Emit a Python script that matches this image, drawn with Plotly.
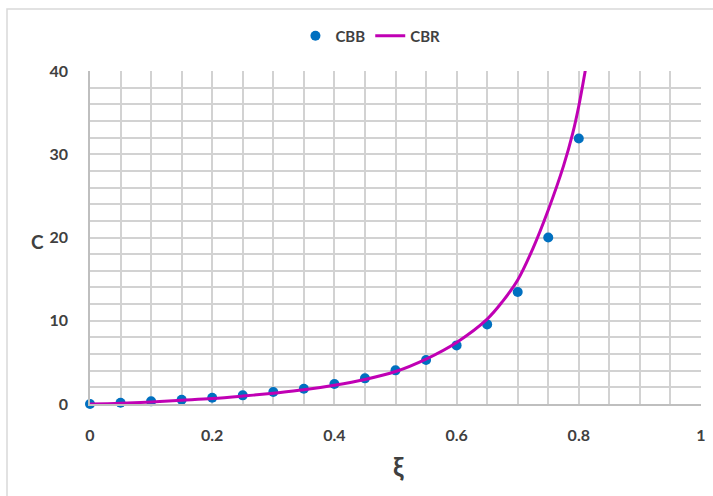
import plotly.graph_objects as go

# CBB data points
xi_points = [0, 0.05, 0.1, 0.15, 0.2, 0.25, 0.3, 0.35, 0.4, 0.45, 0.5, 0.55, 0.6, 0.65, 0.7, 0.75, 0.8]
cbb_values = [0, 0.16, 0.32, 0.52, 0.76, 1.04, 1.44, 1.84, 2.4, 3.08, 4.04, 5.28, 7.04, 9.56, 13.45, 20.0, 31.9]

# CBR curve
xi_curve = [0, 0.05, 0.1, 0.15, 0.2, 0.25, 0.3, 0.35, 0.4, 0.45, 0.5, 0.55, 0.6, 0.65, 0.675, 0.7, 0.725, 0.75, 0.775, 0.79, 0.8, 0.81, 0.815]
cbr_values = [0, 0.1, 0.25, 0.45, 0.65, 0.95, 1.3, 1.7, 2.25, 2.95, 3.9, 5.4, 7.4, 10.2, 12.3, 14.9, 18.7, 23.3, 28.6, 32.5, 35.8, 39.8, 42.0]

x_ticks = [0, 0.2, 0.4, 0.6, 0.8, 1]
x_tick_labels = ["0", "0.2", "0.4", "0.6", "0.8", "1"]
y_ticks = [0, 10, 20, 30, 40]
y_tick_labels = ["0", "10", "20", "30", "40"]

FONT = "Lato"
TXT = "#404040"
GRID = "#d2d2d2"

fig = go.Figure()
fig.add_trace(go.Scatter(
    x=xi_points, y=cbb_values, mode="markers", name="CBB",
    marker=dict(color="#0070C0", size=10),
    cliponaxis=False,
))
fig.add_trace(go.Scatter(
    x=xi_curve, y=cbr_values, mode="lines", name="CBR",
    line=dict(color="#C000B4", width=3, shape="spline", smoothing=1.0),
))

fig.update_layout(
    width=713, height=496,
    margin=dict(l=90, r=12, t=71, b=92, autoexpand=False),
    paper_bgcolor="white", plot_bgcolor="white",
    font=dict(family=FONT, color=TXT, size=16, weight="bold"),
    showlegend=True,
    legend=dict(orientation="h", x=0.459, xanchor="center", y=1.105, yanchor="middle",
                bgcolor="rgba(0,0,0,0)",
                font=dict(family=FONT, size=15, color=TXT, weight="bold"),
                itemwidth=30, tracegroupgap=0),
    xaxis=dict(range=[0, 1], tickvals=x_ticks, ticktext=x_tick_labels,
               showgrid=True, gridcolor=GRID, gridwidth=1.5,
               minor=dict(dtick=0.05, tick0=0, showgrid=True, gridcolor=GRID, gridwidth=1.5),
               zeroline=False, showline=True, linecolor="#bfbfbf", linewidth=1.5,
               ticks="", ticklabelstandoff=16, automargin=False,
               tickfont=dict(family=FONT, size=16, color=TXT, weight="bold")),
    yaxis=dict(range=[0, 40], tickvals=y_ticks, ticktext=y_tick_labels,
               showgrid=True, gridcolor=GRID, gridwidth=1.5,
               minor=dict(dtick=2, tick0=0, showgrid=True, gridcolor=GRID, gridwidth=1.5),
               zeroline=False, showline=True, linecolor="#bfbfbf", linewidth=1.5,
               ticks="", ticklabelstandoff=17, automargin=False,
               tickfont=dict(family=FONT, size=16, color=TXT, weight="bold")),
    annotations=[
        dict(text="C", xref="paper", yref="paper", x=(37 - 90) / 611, y=(404 - 241) / 333,
             showarrow=False, xanchor="center", yanchor="middle",
             font=dict(family=FONT, size=19, color=TXT, weight="bold")),
        dict(text="ξ", xref="paper", yref="paper", x=(398 - 90) / 611, y=(404 - 466) / 333,
             showarrow=False, xanchor="center", yanchor="middle",
             font=dict(family=FONT, size=26, color=TXT, weight="bold")),
    ],
    shapes=[
        dict(type="rect", xref="paper", yref="paper",
             x0=(7 - 90) / 611, x1=(730 - 90) / 611, y0=(404 - 520) / 333, y1=(404 - 9) / 333,
             line=dict(color="#d9d9d9", width=1.5), fillcolor="rgba(0,0,0,0)", layer="below"),
    ],
)

fig.write_html("out.html", config={"displayModeBar": False},
               post_script="document.body.style.margin='0';")
